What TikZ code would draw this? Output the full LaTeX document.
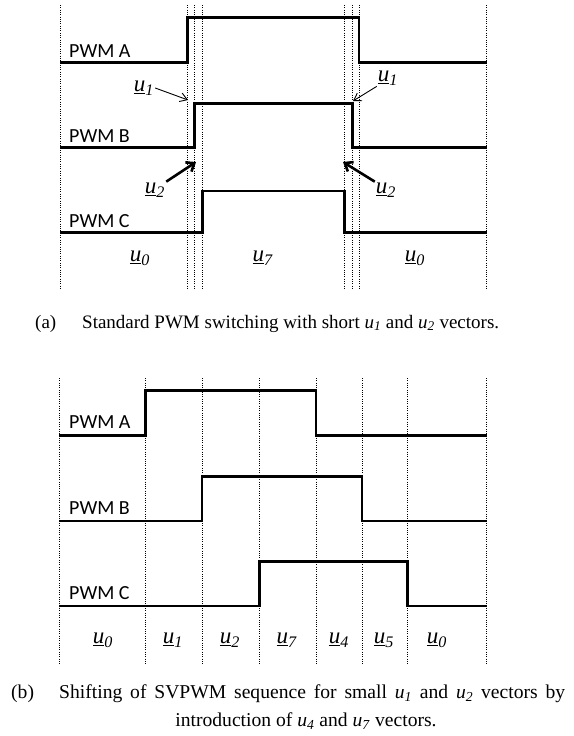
\documentclass[tikz,border=0pt]{standalone}
\usepackage{fontspec}
\setmainfont{Liberation Serif}
\newfontfamily\pwmfont{Carlito}
\usetikzlibrary{arrows.meta}
\newcommand{\uvec}[1]{\underline{\textit{u}}\textsubscript{\textit{#1}}}
\tikzset{
  slotline/.style={dash pattern=on 1pt off 1.3pt, line width=1pt},
  wave/.style={line width=2.6pt, line join=miter},
  pwmlabel/.style={font=\pwmfont\fontsize{20}{22}\selectfont, anchor=base west, inner sep=0pt},
  veclabel/.style={font=\fontsize{23}{25}\selectfont, inner sep=1pt},
  thinarrow/.style={-{Straight Barb[length=7pt,width=9pt]}, line width=0.9pt},
  thickarrow/.style={-{Straight Barb[length=7pt,width=11pt]}, line width=2.6pt},
  captext/.style={font=\fontsize{19}{21}\selectfont, anchor=base west, inner sep=0pt},
  captextb/.style={font=\fontsize{19.6}{21}\selectfont, anchor=base west, inner sep=0pt}
}
\begin{document}
\begin{tikzpicture}[x=1pt,y=-1pt]
  \useasboundingbox (0,0) rectangle (573,736);
  % (a) standard switching
  \foreach \xs in {60,187.7,194.3,202.3,344.3,352.3,359,486.7}
    \draw[slotline] (\xs,5) -- (\xs,290);
  \draw[wave] (60,62.3) -- (187.7,62.3) -- (187.7,17.3) -- (359,17.3) -- (359,62.3) -- (486.7,62.3);
  \draw[wave] (60,147.7) -- (194.3,147.7) -- (194.3,103.3) -- (352.3,103.3) -- (352.3,147.7) -- (486.7,147.7);
  \draw[wave] (60,232.7) -- (202.3,232.7) -- (202.3,191) -- (344.3,191) -- (344.3,232.7) -- (486.7,232.7);
  \node[pwmlabel] (pa) at (69,57.5) {PWM A};
  \node[pwmlabel] (pb) at (69,142.5) {PWM B};
  \node[pwmlabel] (pc) at (69,227.5) {PWM C};
  \node[veclabel] (u1l) at (144,88) {\uvec{1}};
  \node[veclabel] (u1r) at (388,78) {\uvec{1}};
  \node[veclabel] (u2l) at (155,190) {\uvec{2}};
  \node[veclabel] (u2r) at (386,190) {\uvec{2}};
  \coordinate (tip1l) at (188,100);
  \coordinate (tip1r) at (353,101);
  \coordinate (tip2l) at (196,162);
  \coordinate (tip2r) at (343,162);
  \draw[thinarrow] (u1l.east) -- (tip1l);
  \draw[thinarrow] (u1r.south west) -- (tip1r);
  \draw[thickarrow] (u2l.north east) -- (tip2l);
  \draw[thickarrow] (u2r.north west) -- (tip2r);
  \node[veclabel] (a0) at (140,258) {\uvec{0}};
  \node[veclabel] (a7) at (263,258) {\uvec{7}};
  \node[veclabel] (a0r) at (415,258) {\uvec{0}};
  \node[captext] (capa) at (35,328) {(a)};
  \node[captext] (capatxt) at (82,328) {Standard PWM switching with short \textit{u}\textsubscript{\textit{1}} and \textit{u}\textsubscript{\textit{2}} vectors.};
  % (b) shifted sequence
  \foreach \xs in {59.3,145.7,202,259.3,316,362,407.7,486.7}
    \draw[slotline] (\xs,378) -- (\xs,665);
  \draw[wave] (59.3,435.7) -- (145.7,435.7) -- (145.7,390.7) -- (316,390.7) -- (316,435.7) -- (486.7,435.7);
  \draw[wave] (59.3,521) -- (202,521) -- (202,476.7) -- (362,476.7) -- (362,521) -- (486.7,521);
  \draw[wave] (59.3,606) -- (259.3,606) -- (259.3,561.7) -- (407.7,561.7) -- (407.7,606) -- (486.7,606);
  \node[pwmlabel] (pa2) at (69,428.5) {PWM A};
  \node[pwmlabel] (pb2) at (69,514) {PWM B};
  \node[pwmlabel] (pc2) at (69,599) {PWM C};
  \node[veclabel] (b0) at (103,640) {\uvec{0}};
  \node[veclabel] (b1) at (173,640) {\uvec{1}};
  \node[veclabel] (b2) at (230,640) {\uvec{2}};
  \node[veclabel] (b7) at (287,640) {\uvec{7}};
  \node[veclabel] (b4) at (339,640) {\uvec{4}};
  \node[veclabel] (b5) at (384,640) {\uvec{5}};
  \node[veclabel] (b0r) at (437,640) {\uvec{0}};
  \node[captextb] (capb) at (11,698) {(b)};
  \node[captextb] (capbtxt) at (59,698) {\makebox[506pt][s]{Shifting of SVPWM sequence for small \textit{u}\textsubscript{\textit{1}} and \textit{u}\textsubscript{\textit{2}} vectors by}};
  \node[captextb, anchor=base] (capbtxt2) at (306,726) {introduction of \textit{u}\textsubscript{\textit{4}} and \textit{u}\textsubscript{\textit{7}} vectors.};
\end{tikzpicture}
\end{document}
